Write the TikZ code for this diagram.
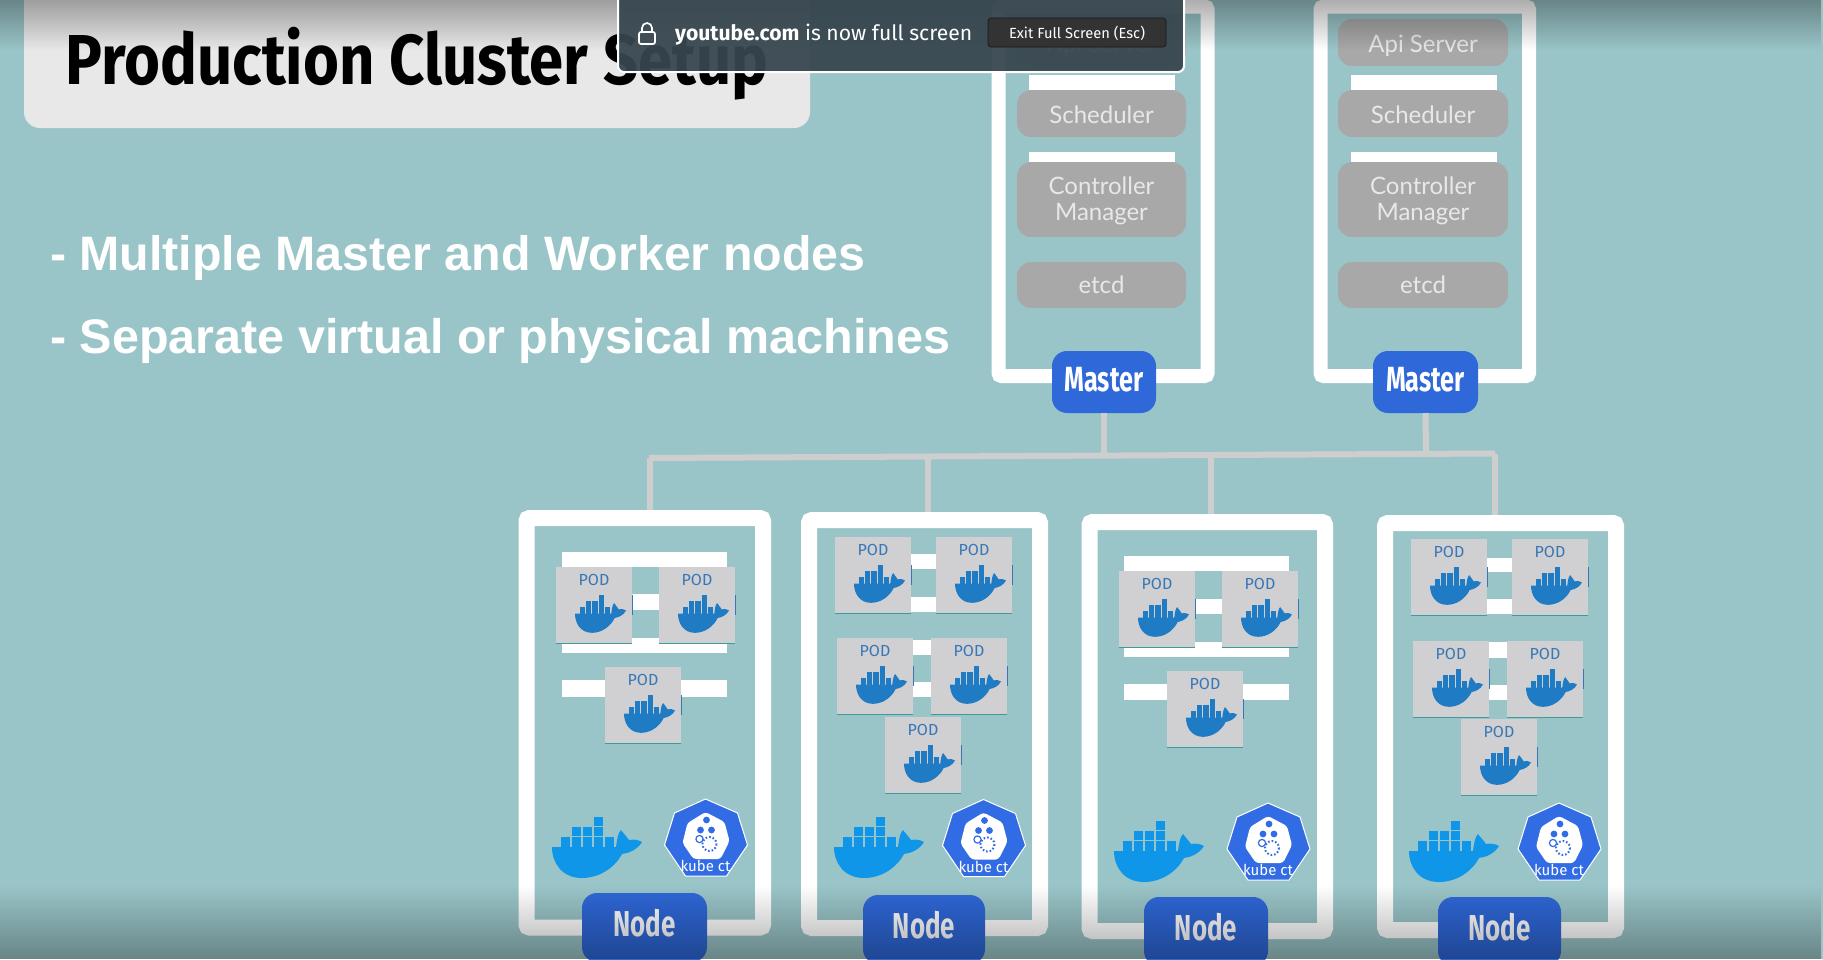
\documentclass[tikz,border=0pt]{standalone}
\usepackage{fontspec}
\usepackage{graphicx}
\usetikzlibrary{fadings}
\newfontfamily\lato{Lato}
\newfontfamily\fira{Fira Sans}
\newfontfamily\libsans{Liberation Sans}
\definecolor{bgteal}{HTML}{9AC5C8}
\definecolor{wirecol}{HTML}{CECECE}
\definecolor{pillcol}{HTML}{A8A8A8}
\definecolor{pilltxt}{HTML}{E8E8E8}
\definecolor{podcol}{HTML}{D0CFD1}
\definecolor{podblue}{HTML}{1F7BC4}
\definecolor{podtxt}{HTML}{3677B5}
\definecolor{mainblue}{HTML}{1096E8}
\definecolor{kubeblue}{HTML}{326CE5}
\definecolor{nodeblue}{HTML}{2F68D8}
\definecolor{barcol}{HTML}{37464F}
\tikzfading[name=topfade, top color=transparent!68, bottom color=transparent!100]
\tikzfading[name=botfade, top color=transparent!100, bottom color=transparent!68]
\tikzset{
  framebox/.style={draw=white,line width=#1,rounded corners=3pt,fill=none},
  whitebar/.style={fill=white,inner sep=0pt,outer sep=0pt},
  pill/.style={fill=pillcol,rounded corners=14pt,inner sep=0pt,outer sep=0pt,text=pilltxt,align=center,font=\lato\fontsize{24}{27}\selectfont},
  bluelabel/.style={fill=nodeblue,rounded corners=15pt,inner sep=0pt,outer sep=0pt,text=white},
  podbox/.style={fill=podcol,inner sep=0pt,outer sep=0pt,minimum width=76pt,minimum height=76pt},
  podlabel/.style={text=podtxt,inner sep=0pt,font=\fira\fontsize{16}{16}\selectfont},
  wire/.style={draw=wirecol,line width=6pt},
  whale/.pic={
    \fill[pic actions] (0,30) -- (64,30) .. controls (65,22) and (66,16) .. (69,13)
      .. controls (72,17) and (75,20) .. (77,23) .. controls (82,22) and (87,23) .. (90,25)
      .. controls (85,33) and (77,36) .. (70,37) .. controls (62,52) and (46,61) .. (30,61)
      .. controls (10,61) and (0,46) .. (0,30) -- cycle;
    \foreach \cxx in {8.5,19.5,30.5,41.5,52.5}{\fill[pic actions] (\cxx,20) rectangle ++(9.4,10);}
    \foreach \cxx in {19.5,30.5,41.5}{\fill[pic actions] (\cxx,10) rectangle ++(9.4,9.2);}
    \fill[pic actions] (41.5,0) rectangle ++(9.4,9.2);
  },
  kube/.pic={
    \filldraw[fill=kubeblue,draw=white,line width=1pt,line join=round]
      (0,-40) -- (32,-26) -- (42,6) -- (21,37) -- (-20,37) -- (-41,6) -- (-31,-26) -- cycle;
    \fill[white,rounded corners=3pt] (0,-27) -- (19,-17) -- (24,2) -- (15,20) -- (-12,20) -- (-23,4) -- (-18,-16) -- cycle;
    \fill[kubeblue] (1,-19) circle (3.4) (-5,-9) circle (3.4) (6,-9) circle (3.4);
    \draw[kubeblue,line width=1.2pt] (-6,0) circle (3.6);
    \draw[kubeblue,line width=2pt,dash pattern=on 1.6pt off 2pt] (4,5) circle (7);
    \node[text=white,inner sep=0pt,font=\fira\fontsize{15}{15}\selectfont] at (0,27) {kube ct};
  }
}
\newcommand\boxnode[7]{%
  \pgfmathsetmacro\cxv{(#3+#5)/2}\pgfmathsetmacro\cyv{(#4+#6)/2}%
  \pgfmathsetmacro\bwv{#5-#3}\pgfmathsetmacro\bhv{#6-#4}%
  \node[#2,minimum width=\bwv pt,minimum height=\bhv pt] (#1) at (\cxv,\cyv) {#7};}
\newcommand\podnode[3]{%
  \node[podbox,anchor=north west] (#1) at (#2,#3) {};
  \node[podlabel] (#1t) at ([xshift=38pt,yshift=-13pt]#1.north west) {POD};
  \pic[fill=podblue,xscale=.567,yscale=.62] at ([xshift=19pt,yshift=-28pt]#1.north west) {whale};
  \draw[color=teal!60!bgteal,line width=1pt] (#1.south west) -- (#1.south east);
  \draw[color=podtxt,line width=1pt] ([yshift=-28pt]#1.north east) -- ([yshift=-48pt]#1.north east);
}
\newcommand\shifted[2]{\raisebox{#1}[\height][\depth]{#2}}
\newcommand\cmtext{\shifted{-3pt}{\begin{tabular}{@{}c@{}}Controller\\[-1pt]Manager\end{tabular}}}
\newcommand\nodetext{\shifted{4pt}{\fira\bfseries\fontsize{36}{36}\selectfont\scalebox{.72}[1]{Node}}}
\newcommand\mastertext{\shifted{2pt}{\fira\bfseries\fontsize{35}{35}\selectfont\scalebox{.72}[1]{Master}}}
\begin{document}
\begin{tikzpicture}[x=1pt,y=-1pt]
\useasboundingbox (0,0) rectangle (1823,959);
\fill[bgteal] (0,0) rectangle (1823,959);

% title panel
\boxnode{titlebox}{fill=white!91!black,rounded corners=16pt,inner sep=0pt,outer sep=0pt}{24}{-30}{810}{128}{}
\node[inner sep=0pt,text=black] (title) at (417,63.5) {\resizebox*{702pt}{73pt}{\fira\bfseries Production Cluster Setup}};

% bullet text
\node[anchor=base west,inner sep=0pt,text=white] (line1) at (50,270) {\resizebox{815pt}{!}{\libsans\bfseries - Multiple Master and Worker nodes}};
\node[anchor=base west,inner sep=0pt,text=white] (line2) at (50,353) {\resizebox{900pt}{!}{\libsans\bfseries - Separate virtual or physical machines}};

% master frames
\boxnode{mf1}{framebox=14pt}{998.5}{6.5}{1207.5}{376}{}
\boxnode{mf2}{framebox=14pt}{1320.5}{6.5}{1529}{376}{}

% node frames
\boxnode{n1}{framebox=16pt}{526.5}{518}{763}{927.5}{}
\boxnode{n2}{framebox=16pt}{809}{520}{1040}{928}{}
\boxnode{n3}{framebox=16pt}{1089.5}{522}{1325}{931}{}
\boxnode{n4}{framebox=16pt}{1385}{523}{1616}{930}{}

% master contents
\boxnode{b1a}{whitebar}{1029}{75}{1175}{91}{}
\boxnode{b1b}{whitebar}{1029}{152}{1175}{164}{}
\boxnode{b2a}{whitebar}{1351}{75}{1497}{91}{}
\boxnode{b2b}{whitebar}{1351}{152}{1497}{164}{}
\boxnode{a1}{pill}{1017}{19}{1186}{66}{\shifted{-3pt}{Api Server}}
\boxnode{s1}{pill}{1017}{90}{1186}{137}{\shifted{-1pt}{Scheduler}}
\boxnode{c1}{pill}{1017}{162}{1186}{237}{\cmtext}
\boxnode{e1}{pill}{1017}{262}{1186}{308}{etcd}
\boxnode{a2}{pill}{1338}{19}{1508}{66}{\shifted{-3pt}{Api Server}}
\boxnode{s2}{pill}{1338}{90}{1508}{137}{\shifted{-1pt}{Scheduler}}
\boxnode{c2}{pill}{1338}{162}{1508}{237}{\cmtext}
\boxnode{e2}{pill}{1338}{262}{1508}{308}{etcd}

% master labels
\boxnode{m1}{bluelabel}{1052}{351}{1156}{413}{\mastertext}
\boxnode{m2}{bluelabel}{1373}{351}{1478}{413}{\mastertext}

% connectors
\coordinate (busL) at (649,458);
\coordinate (busR) at (1495,453.5);
\coordinate (dm1) at (1104,455.6);
\coordinate (dm2) at (1426,453.9);
\coordinate (d1) at (650,458);
\coordinate (d2) at (928,456.5);
\coordinate (d3) at (1211,455);
\coordinate (d4) at (1495,453.5);
\draw[wire,line cap=square] (busL) -- (busR);
\draw[wire] (m1.south) -- (dm1);
\draw[wire] (m2.south) -- (dm2);
\draw[wire] (d1) -- (d1 |- n1.north);
\draw[wire] (d2) -- (d2 |- n2.north);
\draw[wire] (d3) -- (d3 |- n3.north);
\draw[wire] (d4) -- (d4 |- n4.north);

% bars in worker frames
\boxnode{f1a}{whitebar}{562}{552}{727}{567}{}
\boxnode{f1b}{whitebar}{620}{594}{670}{610}{}
\boxnode{f1c}{whitebar}{562}{638}{727}{653}{}
\boxnode{f1d}{whitebar}{562}{680}{727}{697}{}
\boxnode{f2a}{whitebar}{880}{554}{970}{569}{}
\boxnode{f2b}{whitebar}{880}{597}{970}{612}{}
\boxnode{f2c}{whitebar}{880}{640}{970}{655}{}
\boxnode{f2d}{whitebar}{880}{682}{970}{697}{}
\boxnode{f3a}{whitebar}{1124}{556}{1289}{571}{}
\boxnode{f3b}{whitebar}{1180}{599}{1230}{614}{}
\boxnode{f3c}{whitebar}{1124}{642}{1289}{657}{}
\boxnode{f3d}{whitebar}{1124}{684}{1289}{700}{}
\boxnode{f4a}{whitebar}{1470}{558}{1530}{572}{}
\boxnode{f4b}{whitebar}{1470}{599}{1530}{614}{}
\boxnode{f4c}{whitebar}{1470}{642}{1530}{658}{}
\boxnode{f4d}{whitebar}{1470}{685}{1530}{700}{}

% pods
\podnode{p11}{556}{567}
\podnode{p12}{659}{567}
\podnode{p13}{605}{667}
\podnode{p21}{835}{537}
\podnode{p22}{936}{537}
\podnode{p23}{837}{638}
\podnode{p24}{931}{638}
\podnode{p25}{885}{717}
\podnode{p31}{1119}{571}
\podnode{p32}{1222}{571}
\podnode{p33}{1167}{671}
\podnode{p41}{1411}{539}
\podnode{p42}{1512}{539}
\podnode{p43}{1413}{641}
\podnode{p44}{1507}{641}
\podnode{p45}{1461}{719}

% runtime whales and kube icons
\pic[fill=mainblue] at (552,817) {whale};
\pic[fill=mainblue] at (834,817) {whale};
\pic[fill=mainblue] at (1114,821) {whale};
\pic[fill=mainblue] at (1409,821) {whale};
\pic at (705.5,839) {kube};
\pic at (983.5,839.5) {kube};
\pic at (1268,843) {kube};
\pic at (1559,843) {kube};

% node labels
\boxnode{nl1}{bluelabel}{582}{893}{707}{962}{\nodetext}
\boxnode{nl2}{bluelabel}{863}{895}{985}{964}{\nodetext}
\boxnode{nl3}{bluelabel}{1144}{897}{1268}{966}{\nodetext}
\boxnode{nl4}{bluelabel}{1438}{897}{1561}{966}{\nodetext}

% video vignette
\fill[black,path fading=topfade] (0,0) rectangle (1823,50);
\fill[black,path fading=botfade] (0,885) rectangle (1823,959);

% full-screen notice
\filldraw[fill=barcol,fill opacity=.94,draw=white,line width=2pt,rounded corners=6pt] (618,-12) rectangle (1184,72);
\draw[white,line width=1.7pt,rounded corners=2pt] (639,32) rectangle (655,44);
\draw[white,line width=1.7pt] (642,32) -- (642,28) arc[start angle=180,end angle=0,radius=5pt] -- (652,32);
\node[anchor=base west,inner sep=0pt,text=white] (ytext) at (675,40) {\resizebox{297pt}{!}{\fira{\bfseries youtube.com} is now full screen}};
\boxnode{exitbtn}{fill=black!80,draw=black!90,line width=.7pt,rounded corners=3pt,inner sep=0pt,text=white}{988}{18}{1166}{47}{\shifted{-1pt}{\resizebox{136pt}{!}{\fira Exit Full Screen (Esc)}}}
\end{tikzpicture}
\end{document}
